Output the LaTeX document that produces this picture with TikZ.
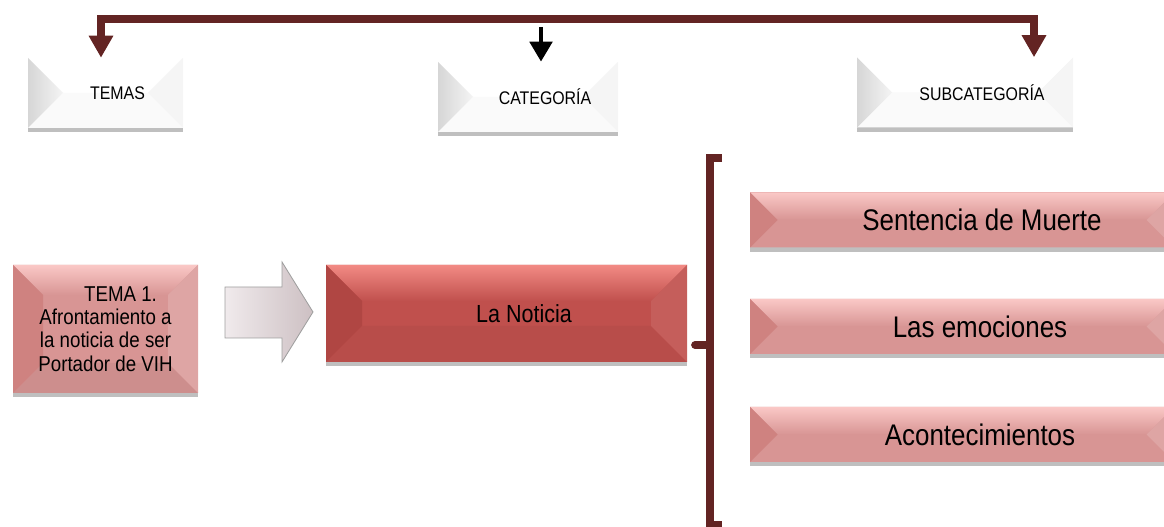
\documentclass[tikz,border=0pt]{standalone}
\usepackage{fontspec}
\setmainfont{Liberation Sans}[FakeStretch=0.87]
\usepackage{tikz}
\usetikzlibrary{arrows.meta, positioning, calc, shadows}
\definecolor{mymaroon}{RGB}{99,36,35}
\definecolor{hdrgray}{RGB}{214,214,214}
\definecolor{hdrlight}{RGB}{244,244,244}
\definecolor{myrose}{RGB}{216,149,148}
\definecolor{myroselt}{RGB}{250,200,198}
\definecolor{myrosedk}{RGB}{207,130,128}
\definecolor{myred}{RGB}{192,80,77}
\definecolor{myredlt}{RGB}{242,138,132}
\definecolor{myreddk}{RGB}{176,70,67}
\definecolor{arrowlt}{RGB}{240,234,236}
\definecolor{arrowdk}{RGB}{205,192,195}
\tikzset{
  % bevel: depth, top, left, right, bottom
  bevel/.style n args={5}{path picture={
    \coordinate (q1) at (path picture bounding box.north west);
    \coordinate (q2) at (path picture bounding box.north east);
    \coordinate (q3) at (path picture bounding box.south east);
    \coordinate (q4) at (path picture bounding box.south west);
    \fill[#2] (q1) -- (q2) -- ($(q2)+(-#1,-#1)$) -- ($(q1)+(#1,-#1)$) -- cycle;
    \fill[#5] (q4) -- ($(q4)+(#1,#1)$) -- ($(q3)+(-#1,#1)$) -- (q3) -- cycle;
    \fill[#3] (q1) -- ($(q1)+(#1,-#1)$) -- ($(q4)+(#1,#1)$) -- (q4) -- cycle;
    \fill[#4] (q2) -- ($(q2)+(-#1,-#1)$) -- ($(q3)+(-#1,#1)$) -- (q3) -- cycle;
  }},
  boxshadow/.style={drop shadow={shadow xshift=0pt, shadow yshift=-3pt, opacity=0.25, fill=black}},
  hdrbox/.style={rectangle, fill=white, minimum height=1.75cm, inner sep=0pt,
    font=\fontsize{13}{15}\selectfont, boxshadow,
    bevel={0.875}{fill=white}{left color=hdrgray, right color=hdrlight}{fill=white!96!black}{fill=white!98!black}},
  temabox/.style={rectangle, fill=myrose, minimum width=4.625cm, minimum height=3.2cm,
    align=center, inner sep=0pt, font=\fontsize{15.3}{16.6}\selectfont, boxshadow,
    bevel={0.75}{top color=myroselt, bottom color=myrose}{fill=myrosedk}{fill=myrose!85!white}{fill=myrose!95!black}},
  redbox/.style={rectangle, fill=myred, minimum width=9.025cm, minimum height=2.425cm,
    inner sep=0pt, font=\fontsize{17.6}{20}\selectfont, boxshadow,
    bevel={0.9}{top color=myredlt, bottom color=myred}{fill=myreddk}{fill=myred!92!white}{fill=myred!96!black}},
  subbox/.style={rectangle, fill=myrose, minimum width=10.6cm, minimum height=1.375cm,
    inner sep=0pt, font=\fontsize{21.2}{24}\selectfont, boxshadow,
    bevel={0.6875}{top color=myroselt, bottom color=myrose}{fill=myrosedk}{fill=myrose!85!white}{fill=myrose}},
  treearrow/.style={{Triangle[width=0.58cm, length=0.55cm]}-{Triangle[width=0.58cm, length=0.55cm]},
    line width=5.5pt, color=mymaroon},
  blackarrow/.style={-{Triangle[width=0.55cm, length=0.5cm]}, line width=3.5pt, color=black},
  bracket/.style={line width=5.5pt, color=mymaroon},
  bigarrow/.style={draw=gray!75, line width=0.6pt, left color=arrowlt, right color=arrowdk}
}
\begin{document}
\begin{tikzpicture}
  \useasboundingbox (0,0) rectangle (29.1,13.175);

  % ── header row ──
  \node[hdrbox, minimum width=3.875cm] (temas)  at (2.6375,10.85)  {\hspace*{0.6cm}TEMAS};
  \node[hdrbox, minimum width=4.5cm]   (cat)    at (13.2,10.75)    {\hspace*{0.85cm}CATEGORÍA};
  \node[hdrbox, minimum width=5.4cm]   (subcat) at (24.125,10.8625) {\hspace*{0.85cm}SUBCATEGORÍA};

  \coordinate (tl) at (2.525,12.7);
  \coordinate (tr) at (25.85,12.7);
  \coordinate (catin) at (13.525,12.5);
  \draw[treearrow] (temas.north -| tl) -- (tl) -- (tr) -- (subcat.north -| tr);
  \draw[blackarrow] (catin) -- (catin |- cat.north);

  % ── tema / categoria ──
  \node[temabox] (tema1) at (2.6375,4.95)
    {\hspace*{0.75cm}TEMA 1.\\Afrontamiento a\\la noticia de ser\\Portador de VIH};
  \node[redbox] (noticia) at (12.6625,5.3375) {\hspace*{0.875cm}La Noticia};
  \draw[bigarrow] (5.625,6.0) -- (7.05,6.0) -- (7.05,6.625) -- (7.825,5.375)
    -- (7.05,4.125) -- (7.05,4.725) -- (5.625,4.725) -- cycle;

  % ── bracket ──
  \coordinate (brtop) at (17.75,9.225);
  \coordinate (brbot) at (17.75,0.05);
  \coordinate (brmid) at (17.75,4.55);
  \coordinate (nub)   at (17.375,4.55);
  \draw[bracket] ($(brtop)+(0.3,0)$) -- (brtop) -- (brbot) -- ($(brbot)+(0.3,0)$);
  \draw[bracket, line cap=round] (brmid) -- (nub);

  % ── subcategorias ──
  \node[subbox] (sub1) at (24.05,7.675)  {\hspace*{1.0cm}Sentencia de Muerte};
  \node[subbox] (sub2) at (24.05,5.0125) {\hspace*{0.9cm}Las emociones};
  \node[subbox] (sub3) at (24.05,2.3125) {\hspace*{0.9cm}Acontecimientos};
\end{tikzpicture}
\end{document}
